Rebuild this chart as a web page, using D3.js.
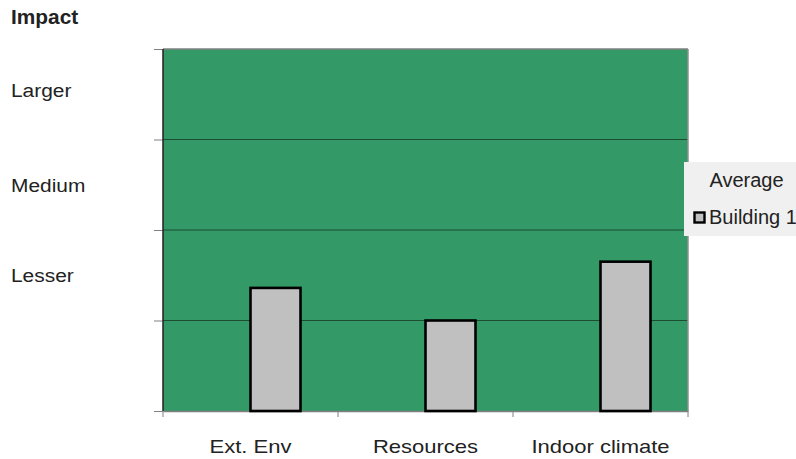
<!DOCTYPE html>
<html>
<head>
<meta charset="utf-8">
<script src="https://cdn.jsdelivr.net/npm/d3@7"></script>
<style>
  body { margin: 0; background: #fff; }
  svg { display: block; font-family: "Liberation Sans", Arial, sans-serif; }
</style>
</head>
<body>
<svg id="chart" width="796" height="459"></svg>
<script>
const categories = ["Ext. Env", "Resources", "Indoor climate"];
const seriesNames = ["Average", "Building 1"];
const averageValues = [null, null, null];
const building1Values = [1.36, 1.0, 1.65];
const levelLabels = ["Lesser", "Medium", "Larger"];
const levelPositions = [1.5, 2.5, 3.55];
const yTicks = [0, 1, 2, 3, 4];

const svg = d3.select("#chart");
const plot = { left: 163, right: 688, top: 49, bottom: 411 };

const x = d3.scaleBand().domain(categories).range([plot.left, plot.right]);
const xSeries = d3.scaleBand().domain(seriesNames)
  .range([0, x.bandwidth()]).paddingInner(0).paddingOuter(0.75);
const y = d3.scaleLinear().domain([0, 4]).range([plot.bottom, plot.top]);

// text with a slight horizontal stretch, like the original rendering
function label(sel, px, py, size, sx, anchor) {
  return sel.append("text")
    .attr("transform", `translate(${px},${py}) scale(${sx},1)`)
    .attr("text-anchor", anchor || "start")
    .attr("font-size", size)
    .attr("fill", "#222");
}

// plot background
svg.append("rect")
  .attr("x", plot.left).attr("y", plot.top)
  .attr("width", plot.right - plot.left).attr("height", plot.bottom - plot.top)
  .attr("fill", "#339966");

// gridlines
svg.selectAll("line.grid")
  .data(yTicks.filter(d => d > 0 && d < 4))
  .join("line")
  .attr("class", "grid")
  .attr("x1", plot.left).attr("x2", plot.right)
  .attr("y1", d => y(d)).attr("y2", d => y(d))
  .attr("stroke", "#1d4d30").attr("stroke-width", 1);

// top / right border
svg.append("line").attr("x1", plot.left).attr("x2", plot.right)
  .attr("y1", plot.top).attr("y2", plot.top)
  .attr("stroke", "#808080").attr("stroke-width", 1.5);
svg.append("line").attr("x1", plot.right).attr("x2", plot.right)
  .attr("y1", plot.top).attr("y2", plot.bottom)
  .attr("stroke", "#909090").attr("stroke-width", 1.5);

// y axis (ticks only)
const yAxis = svg.append("g")
  .attr("transform", `translate(${plot.left},0)`)
  .call(d3.axisLeft(y).tickValues(yTicks).tickSize(9).tickFormat(""));
yAxis.select(".domain").remove();
yAxis.selectAll(".tick line").attr("stroke", "#808080");
svg.append("line").attr("x1", plot.left).attr("x2", plot.left)
  .attr("y1", plot.top).attr("y2", plot.bottom)
  .attr("stroke", "#222").attr("stroke-width", 1.5);

// x axis
const xAxis = svg.append("g")
  .attr("transform", `translate(0,${plot.bottom})`)
  .call(d3.axisBottom(x).tickSize(0).tickFormat(""));
xAxis.select(".domain").attr("stroke", "#808080").attr("stroke-width", 1.5);
svg.selectAll("line.xtick")
  .data(categories.map(c => x(c)).concat([plot.right]))
  .join("line")
  .attr("class", "xtick")
  .attr("x1", d => d).attr("x2", d => d)
  .attr("y1", plot.bottom).attr("y2", plot.bottom + 6)
  .attr("stroke", "#808080");
categories.forEach(c => {
  label(svg, x(c) + x.bandwidth() / 2, plot.bottom + 42, 18.5, 1.19, "middle").text(c);
});

// bars
svg.selectAll("rect.bar")
  .data(categories.map((c, i) => ({ c, v: building1Values[i] })))
  .join("rect")
  .attr("class", "bar")
  .attr("x", d => x(d.c) + xSeries("Building 1"))
  .attr("y", d => y(d.v))
  .attr("width", xSeries.bandwidth())
  .attr("height", d => y(0) - y(d.v))
  .attr("fill", "#c0c0c0")
  .attr("stroke", "#000").attr("stroke-width", 2.6);

// title
label(svg, 11, 24, 19.5, 1.07).attr("font-weight", "bold").text("Impact");

// level labels
levelLabels.forEach((t, i) => {
  label(svg, 11, y(levelPositions[i]) + 7, 19, 1.1).text(t);
});

// legend
const lg = svg.append("g");
lg.append("rect").attr("x", 684).attr("y", 162).attr("width", 120).attr("height", 74)
  .attr("fill", "#f0f0f0");
label(lg, 746.5, 187, 20, 1, "middle").text(seriesNames[0]);
lg.append("rect").attr("x", 694.5).attr("y", 212.5).attr("width", 10).attr("height", 10)
  .attr("fill", "#c0c0c0").attr("stroke", "#000").attr("stroke-width", 2.4);
label(lg, 709, 224, 20, 1).text(seriesNames[1]);
</script>
</body>
</html>
